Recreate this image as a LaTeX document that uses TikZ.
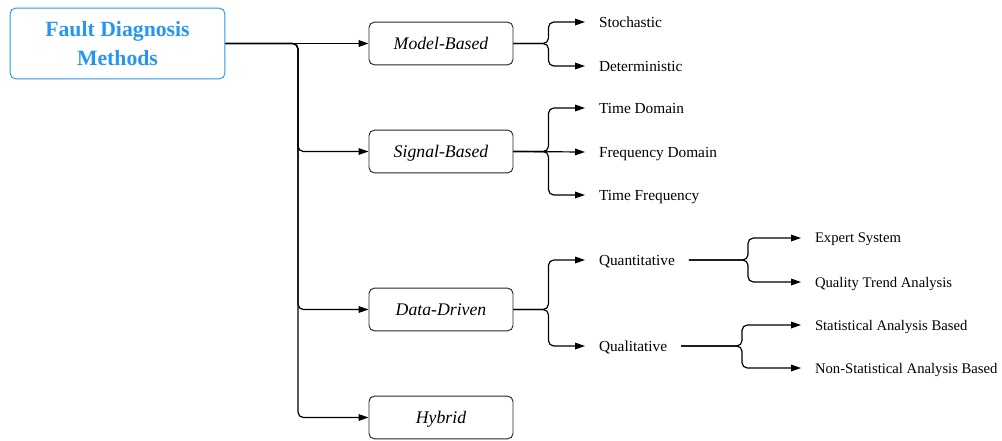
\documentclass[tikz,border=0pt]{standalone}
\usepackage{fontspec}
\setmainfont{Liberation Serif}
\usetikzlibrary{arrows.meta}
\definecolor{rootblue}{RGB}{38,150,240}
\tikzstyle{arrow} = [line width=0.9pt, rounded corners=4pt, -{Triangle[length=7.5pt,width=5pt]}]
\tikzstyle{line} = [line width=0.9pt, rounded corners=4pt]

\begin{document}
\begin{tikzpicture}[x=0.75pt, y=-0.75pt]
  % Define styles for boxes and labels
  \tikzstyle{root} = [rectangle, draw=rootblue, line width=0.7pt, rounded corners=4pt, text=rootblue, font=\fontsize{16.3}{22}\selectfont\bfseries, align=center, minimum width=161pt, minimum height=53pt, text depth=0pt]
  \tikzstyle{method} = [rectangle, draw=black!85, line width=0.7pt, rounded corners=4pt, font=\fontsize{13.3}{15}\selectfont\itshape, minimum width=108pt, minimum height=32pt, text depth=0pt]
  \tikzstyle{leaf} = [anchor=west, inner xsep=10.5pt, outer sep=0pt, font=\fontsize{11.5}{13}\selectfont, text depth=0pt]
  \tikzstyle{subleaf} = [leaf, font=\fontsize{11}{13}\selectfont]

  \useasboundingbox (0,0) rectangle (1002,440);

  % Place nodes
  \node [root] (fdm) at (117.5,43.5) {Fault Diagnosis\\Methods};
  \node [method] (model) at (441,43.5) {Model-Based};
  \node [method] (signal) at (441,151.5) {Signal-Based};
  \node [method] (data) at (441,309.5) {Data-Driven};
  \node [method] (hybrid) at (441,417.5) {Hybrid};

  \node [leaf] (stoch) at (585,22) {Stochastic};
  \node [leaf] (determ) at (585,66) {Deterministic};
  \node [leaf] (timedom) at (585,108) {Time Domain};
  \node [leaf] (freqdom) at (585,152) {Frequency Domain};
  \node [leaf] (timefreq) at (585,195) {Time Frequency};
  \node [leaf] (quant) at (585,260) {Quantitative};
  \node [leaf] (qual) at (585,346) {Qualitative};
  \node [subleaf] (expert) at (801,238) {Expert System};
  \node [subleaf] (trend) at (801,282) {Quality Trend Analysis};
  \node [subleaf] (stat) at (801,325) {Statistical Analysis Based};
  \node [subleaf] (nonstat) at (801,368) {Non-Statistical Analysis Based};

  \coordinate (split) at (298,43.5);

  % Draw edges
  \draw [arrow] (fdm.east) -- (model.west);
  \draw [arrow] (fdm.east) -- (split) |- (signal.west);
  \draw [arrow] (fdm.east) -- (split) |- (data.west);
  \draw [arrow] (fdm.east) -- (split) |- (hybrid.west);

  \draw [arrow] (model.east) -- ++(35,0) |- (stoch.west);
  \draw [arrow] (model.east) -- ++(35,0) |- (determ.west);

  \draw [arrow] (signal.east) -- ++(35,0) |- (timedom.west);
  \draw [arrow] (signal.east) -- (freqdom.west);
  \draw [arrow] (signal.east) -- ++(35,0) |- (timefreq.west);

  \draw [arrow] (data.east) -- ++(35,0) |- (quant.west);
  \draw [arrow] (data.east) -- ++(35,0) |- (qual.west);

  \draw [arrow] (quant.east) -- (748,260) |- (expert.west);
  \draw [arrow] (quant.east) -- (748,260) |- (trend.west);
  \draw [arrow] (qual.east) -- (742,346) |- (stat.west);
  \draw [arrow] (qual.east) -- (742,346) |- (nonstat.west);
\end{tikzpicture}
\end{document}
